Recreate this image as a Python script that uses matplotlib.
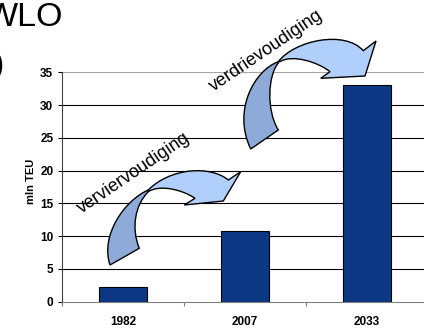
import matplotlib
matplotlib.use('Agg')
import matplotlib.pyplot as plt
from matplotlib.path import Path
from matplotlib.patches import PathPatch
from matplotlib.transforms import Affine2D

plt.rcParams['font.family'] = ['Liberation Sans', 'DejaVu Sans']

# data
years = ['1982', '2007', '2033']
teu = [2.2, 10.8, 33.0]
y_ticks = [0, 5, 10, 15, 20, 25, 30, 35]
arrow_labels = ['verviervoudiging', 'verdrievoudiging']

W, H = 424, 328
fig = plt.figure(figsize=(W / 100, H / 100), dpi=100)
ax = fig.add_axes([62 / W, 1 - 301.7 / H, 366 / W, 229.4 / H])

x = range(len(years))
ax.bar(x, teu, width=0.4, color='#0c3884', edgecolor='black', linewidth=0.8, zorder=3)

ax.set_xlim(-0.5, 2.5)
ax.set_ylim(0, 35)
ax.set_yticks(y_ticks)
ax.set_yticklabels([str(v) for v in y_ticks], fontsize=8.5, fontweight='bold')
for v in y_ticks[1:-1]:
    ax.axhline(v, color='black', linewidth=0.8, zorder=1)
ax.axhline(35, color='#a6a6a6', linewidth=0.8, zorder=1)

# ticks on category boundaries, labels on centres
ax.set_xticks([-0.5, 0.5, 1.5, 2.5])
ax.set_xticklabels([])
ax.set_xticks(list(x), minor=True)
ax.set_xticklabels(years, minor=True, fontsize=8.5, fontweight='bold')
ax.tick_params(axis='x', which='major', length=3, color='#808080')
ax.tick_params(axis='x', which='minor', length=0, pad=10.5)
ax.tick_params(axis='y', length=3, pad=3.2)

for s in ['top', 'right']:
    ax.spines[s].set_visible(False)
ax.spines['bottom'].set_color('#808080')
ax.spines['left'].set_color('#404040')

fig.text(31 / W, 1 - 181 / H, 'mln TEU', rotation=90, ha='center', va='center',
         fontsize=8, fontweight='bold')

# title fragments cut off at the left edge
fig.text(63 / W, 1 - 26 / H, 'WLO', ha='right', va='baseline', fontsize=24.5)
fig.text(4 / W, 1 - 74 / H, ')', ha='right', va='baseline', fontsize=24.5)

# curved block arrows, drawn in image pixel coordinates
px = Affine2D().scale(1 / W, -1 / H).translate(0, 1) + fig.transFigure
C4, L2, M, CL = Path.CURVE4, Path.LINETO, Path.MOVETO, Path.CLOSEPOLY


def block_arrow(back, front):
    for verts, col in [(back, '#8eaad8'), (front, '#b0cffb')]:
        codes = [M, C4, C4, C4, L2, C4, C4, C4, CL]
        if len(verts) == 13:
            codes = [M, C4, C4, C4, L2, L2, L2, L2, C4, C4, C4, CL]
        verts = verts[:len(codes)]
        fig.patches.append(PathPatch(Path(verts, codes), facecolor=col,
                                     edgecolor='black', linewidth=1,
                                     transform=px))


block_arrow(
    [(148.3, 190), (125, 200), (100, 235), (110, 265), (139.3, 248.3),
     (131, 228), (135, 205), (148.3, 191.7), (148.3, 190)],
    [(148.3, 190), (170, 168), (210, 165), (228.3, 180), (240.7, 171.7),
     (223.3, 201), (184.3, 205), (195, 198.3), (183, 190), (160, 184),
     (148.3, 191.7), (148.3, 190), (148.3, 190)])
block_arrow(
    [(278.3, 61.7), (255, 70), (232, 110), (250.7, 149), (278.3, 130),
     (266, 110), (268, 75), (278.3, 63), (278.3, 61.7)],
    [(278.3, 61.7), (295, 40), (345, 30), (363.3, 50.7), (376, 41),
     (365, 76), (320.7, 78.3), (330, 71.7), (318, 62), (292, 54),
     (280, 61.7), (278.3, 61.7), (278.3, 61.7)])

fig.text(134 / W, 1 - 173 / H, arrow_labels[0], rotation=34, rotation_mode='anchor',
         ha='center', va='center', fontsize=13)
fig.text(266 / W, 1 - 51 / H, arrow_labels[1], rotation=34, rotation_mode='anchor',
         ha='center', va='center', fontsize=13)

fig.savefig('out.png', dpi=100)
